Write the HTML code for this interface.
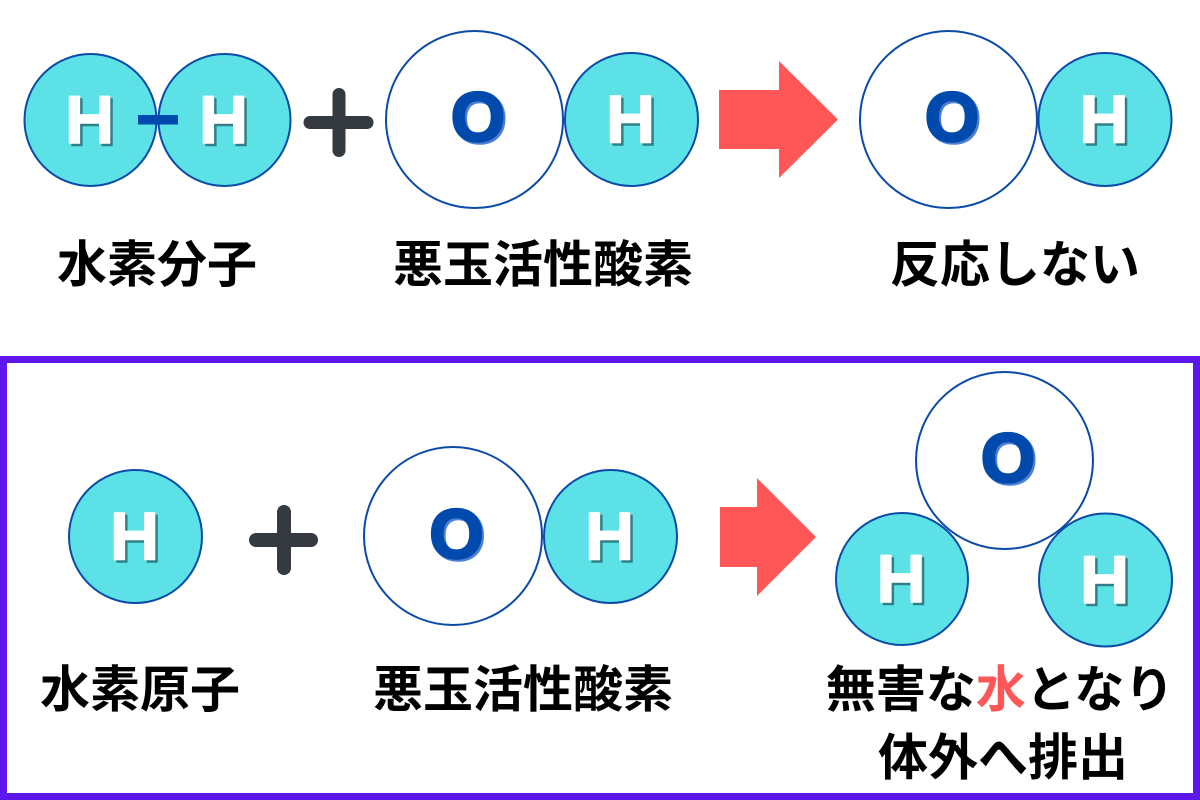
<!DOCTYPE html>
<html>
<head>
<meta charset="utf-8">
<style>
html,body{margin:0;padding:0;background:#fff;}
svg{display:block;}
.lbl{font-family:"Liberation Sans","Noto Sans CJK JP",sans-serif;font-weight:700;font-size:50px;fill:#000;}
.h{font-family:"Liberation Sans",sans-serif;font-weight:700;font-size:68px;fill:#fff;stroke:#fff;stroke-width:1.5;stroke-linejoin:round;}
.hs{font-family:"Liberation Sans",sans-serif;font-weight:700;font-size:68px;fill:#2f8087;stroke:#2f8087;stroke-width:1.5;stroke-linejoin:round;}
.o{font-family:"Liberation Sans",sans-serif;font-weight:700;font-size:70px;fill:#004aad;stroke:#004aad;stroke-width:2.5;}
.os{font-family:"Liberation Sans",sans-serif;font-weight:700;font-size:70px;fill:#4d80d2;stroke:#4d80d2;stroke-width:2.5;}
.hc{fill:#5ce1e6;stroke:#0a4aa8;stroke-width:2;}
.oc{fill:#fff;stroke:#0a4aa8;stroke-width:2;}
</style>
</head>
<body>
<svg width="1200" height="800" viewBox="0 0 1200 800" xmlns="http://www.w3.org/2000/svg">
<rect x="0" y="0" width="1200" height="800" fill="#fff"/>

<!-- TOP ROW -->
<circle class="hc" cx="90.5" cy="120" r="66"/>
<circle class="hc" cx="224.5" cy="120" r="66"/>
<rect x="138" y="115" width="40" height="9.5" fill="#004aad"/>
<text class="hs" x="92" y="145.5" text-anchor="middle">H</text>
<text class="h" x="89.5" y="143" text-anchor="middle">H</text>
<text class="hs" x="226" y="145.5" text-anchor="middle">H</text>
<text class="h" x="223.5" y="143" text-anchor="middle">H</text>

<g stroke="#343a40" stroke-width="13" stroke-linecap="round">
<line x1="310" y1="122.5" x2="367" y2="122.5"/>
<line x1="339" y1="94.5" x2="339" y2="150.5"/>
</g>

<circle class="oc" cx="474.5" cy="119.5" r="88.5"/>
<text class="os" x="480" y="143" text-anchor="middle">O</text>
<text class="o" x="478" y="141" text-anchor="middle">O</text>

<circle class="hc" cx="631.5" cy="119.5" r="66.5"/>
<text class="hs" x="633" y="145" text-anchor="middle">H</text>
<text class="h" x="630.5" y="142.5" text-anchor="middle">H</text>

<polygon points="719,90 779,90 779,61 838,119.5 779,178 779,149 719,149" fill="#ff5757"/>

<circle class="oc" cx="948.5" cy="119.5" r="88.5"/>
<text class="os" x="954" y="143" text-anchor="middle">O</text>
<text class="o" x="952" y="141" text-anchor="middle">O</text>

<circle class="hc" cx="1105" cy="119.5" r="66.5"/>
<text class="hs" x="1106.5" y="145" text-anchor="middle">H</text>
<text class="h" x="1104" y="142.5" text-anchor="middle">H</text>

<text class="lbl" x="157" y="282" text-anchor="middle">水素分子</text>
<text class="lbl" x="543" y="282" text-anchor="middle">悪玉活性酸素</text>
<text class="lbl" x="1015" y="282" text-anchor="middle">反応しない</text>

<!-- BOTTOM FRAME -->
<rect x="3.5" y="359.5" width="1193" height="437" fill="none" stroke="#5e17eb" stroke-width="7"/>

<circle class="hc" cx="135.5" cy="536.5" r="66.5"/>
<text class="hs" x="137" y="562" text-anchor="middle">H</text>
<text class="h" x="134.5" y="559.5" text-anchor="middle">H</text>

<g stroke="#343a40" stroke-width="14" stroke-linecap="round">
<line x1="256" y1="540" x2="311" y2="540"/>
<line x1="284" y1="512" x2="284" y2="568"/>
</g>

<circle class="oc" cx="453" cy="536" r="89"/>
<text class="os" x="458.5" y="560" text-anchor="middle">O</text>
<text class="o" x="456.5" y="558" text-anchor="middle">O</text>

<circle class="hc" cx="610.5" cy="536.5" r="66.5"/>
<text class="hs" x="612" y="562" text-anchor="middle">H</text>
<text class="h" x="609.5" y="559.5" text-anchor="middle">H</text>

<polygon points="720,507 757,507 757,478 816,537 757,596 757,567 720,567" fill="#ff5757"/>

<circle class="oc" cx="1004.5" cy="460.5" r="88.5"/>
<text class="os" x="1010" y="484" text-anchor="middle">O</text>
<text class="o" x="1008" y="482" text-anchor="middle">O</text>

<circle class="hc" cx="902" cy="579" r="66"/>
<text class="hs" x="903.5" y="604.5" text-anchor="middle">H</text>
<text class="h" x="901" y="602" text-anchor="middle">H</text>

<circle class="hc" cx="1105.5" cy="580" r="66.5"/>
<text class="hs" x="1107" y="605.5" text-anchor="middle">H</text>
<text class="h" x="1104.5" y="603" text-anchor="middle">H</text>

<text class="lbl" x="140" y="707" text-anchor="middle">水素原子</text>
<text class="lbl" x="523" y="707" text-anchor="middle">悪玉活性酸素</text>
<text class="lbl" x="1000" y="707" text-anchor="middle">無害な<tspan fill="#ff5757">水</tspan>となり</text>
<text class="lbl" x="1003" y="775" text-anchor="middle">体外へ排出</text>
</svg>
</body>
</html>
